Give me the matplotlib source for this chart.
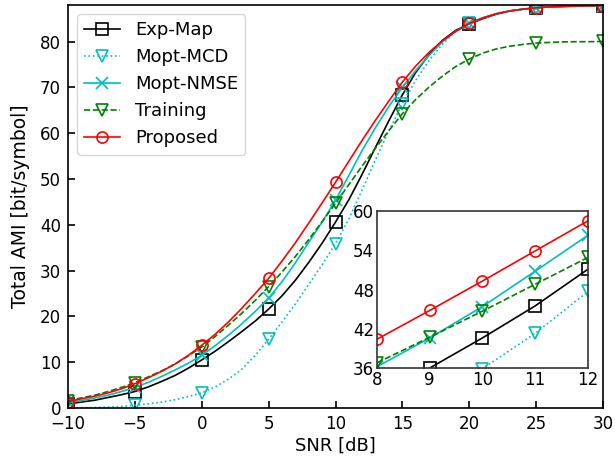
import matplotlib
matplotlib.use("Agg")
import matplotlib.pyplot as plt
import numpy as np

# SNR grid (dB), one point per dB; markers drawn every 5 dB in the main axes
snr_db = list(range(-10, 31))

exp_map = [0.9, 1.3, 1.7, 2.3, 2.9, 3.6, 4.6, 5.8, 7.1, 8.7,
           10.5, 12.4, 14.5, 16.7, 19.0, 21.6, 24.5, 27.9, 31.8, 36.0,
           40.6, 45.5, 51.1, 57.0, 62.8, 68.4, 73.3, 77.2, 80.3, 82.5,
           83.9, 85.0, 86.0, 86.7, 87.1, 87.4, 87.6, 87.7, 87.8, 87.85, 87.9]
mopt_mcd = [0.0, 0.05, 0.1, 0.2, 0.35, 0.6, 0.9, 1.3, 1.8, 2.5,
            3.3, 4.6, 6.3, 8.5, 11.5, 15.0, 18.8, 22.7, 27.0, 31.3,
            35.9, 41.3, 47.7, 54.3, 60.6, 66.5, 71.6, 75.9, 79.5, 82.2,
            84.0, 85.1, 86.0, 86.7, 87.1, 87.4, 87.6, 87.7, 87.8, 87.85, 87.9]
mopt_nmse = [1.2, 1.6, 2.2, 2.8, 3.6, 4.5, 5.6, 6.9, 8.3, 9.8,
             11.5, 13.6, 15.9, 18.4, 21.1, 24.0, 27.6, 31.7, 36.2, 40.6,
             45.4, 50.8, 56.3, 61.3, 65.9, 70.0, 73.7, 77.0, 80.0, 82.3,
             84.0, 85.2, 86.1, 86.7, 87.1, 87.4, 87.6, 87.7, 87.8, 87.85, 87.9]
training = [1.6, 2.2, 2.8, 3.6, 4.5, 5.5, 6.8, 8.1, 9.6, 11.4,
            13.3, 15.6, 18.1, 20.7, 23.5, 26.5, 29.7, 33.1, 36.8, 40.7,
            44.7, 48.8, 52.9, 56.8, 60.6, 64.3, 67.4, 70.1, 72.5, 74.6,
            76.2, 77.5, 78.4, 79.0, 79.4, 79.7, 79.85, 79.95, 80.0, 80.0, 80.05]
proposed = [1.4, 2.0, 2.6, 3.3, 4.2, 5.3, 6.6, 8.0, 9.6, 11.5,
            13.7, 16.1, 18.8, 21.8, 25.0, 28.3, 32.1, 36.1, 40.4, 44.8,
            49.3, 53.9, 58.5, 62.9, 67.1, 71.2, 74.7, 77.7, 80.2, 82.3,
            84.0, 85.2, 86.1, 86.7, 87.1, 87.4, 87.6, 87.7, 87.8, 87.85, 87.9]

series = [
    ("Exp-Map", exp_map, "k", "-", "s"),
    ("Mopt-MCD", mopt_mcd, "c", ":", "v"),
    ("Mopt-NMSE", mopt_nmse, "c", "-", "x"),
    ("Training", training, "g", "--", "v"),
    ("Proposed", proposed, "r", "-", "o"),
]

plt.rcParams["font.size"] = 12

fig = plt.figure(figsize=(6.15, 4.61), dpi=100)
ax = fig.add_axes([0.1106, 0.115, 0.8699, 0.874])

x = np.array(snr_db)
for label, vals, color, ls, mk in series:
    ax.plot(x, vals, color=color, linestyle=ls, marker=mk, markevery=5,
            markersize=8, markerfacecolor="none", markeredgewidth=1.2,
            linewidth=1.2, label=label)

ax.set_xlim(-10, 30)
ax.set_ylim(0, 88)
ax.set_xticks([-10, -5, 0, 5, 10, 15, 20, 25, 30])
ax.set_yticks([0, 10, 20, 30, 40, 50, 60, 70, 80])
ax.tick_params(direction="in", length=5, width=1.2, pad=5)
for sp in ax.spines.values():
    sp.set_linewidth(1.2)
ax.set_xlabel("SNR [dB]", fontsize=13, labelpad=3)
ax.set_ylabel("Total AMI [bit/symbol]", fontsize=13.5, labelpad=7)
ax.legend(loc="upper left", fontsize=13, borderaxespad=0.5)

# zoomed inset, markers on every dB point
axin = fig.add_axes([0.613, 0.2017, 0.343, 0.3406])
sel = (x >= 8) & (x <= 12)
for label, vals, color, ls, mk in series:
    axin.plot(x[sel], np.array(vals)[sel], color=color, linestyle=ls, marker=mk,
              markersize=8, markerfacecolor="none", markeredgewidth=1.2,
              linewidth=1.2)
axin.set_xlim(8, 12)
axin.set_ylim(36, 60)
axin.set_xticks([8, 9, 10, 11, 12])
axin.set_yticks([36, 42, 48, 54, 60])
axin.tick_params(length=0, pad=2)
for sp in axin.spines.values():
    sp.set_linewidth(1.2)
    sp.set_color("#333333")

fig.savefig("out.png", dpi=100)
